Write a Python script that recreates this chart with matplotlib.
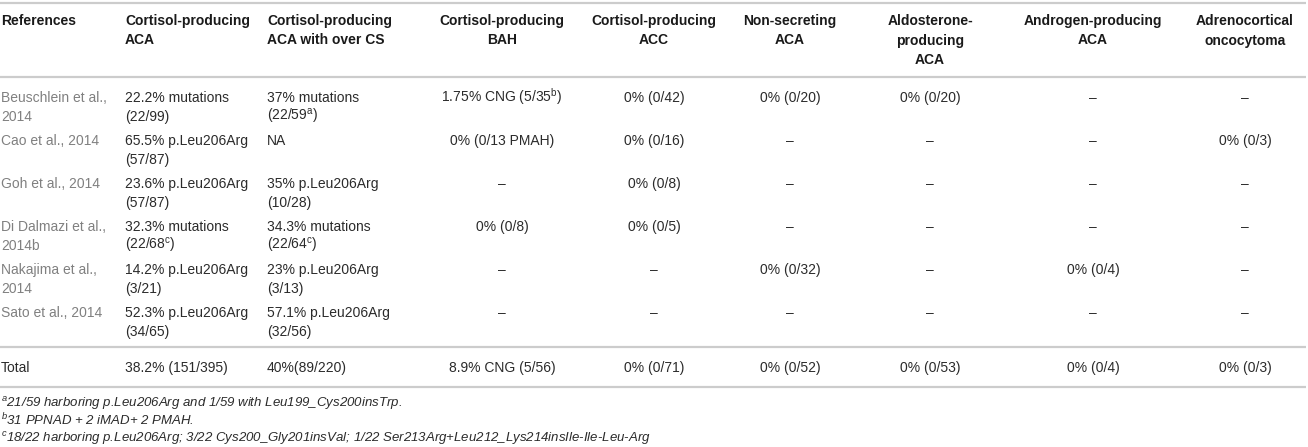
import matplotlib
matplotlib.use("Agg")
import matplotlib.pyplot as plt

plt.rcParams['font.family'] = ['Liberation Sans', 'DejaVu Sans']
plt.rcParams['mathtext.fontset'] = 'custom'
plt.rcParams['mathtext.rm'] = 'Liberation Sans'
plt.rcParams['mathtext.it'] = 'Liberation Sans:italic'
plt.rcParams['mathtext.bf'] = 'Liberation Sans:bold'

# ---- table content ----
headers = [
    "References",
    "Cortisol-producing\nACA",
    "Cortisol-producing\nACA with over CS",
    "Cortisol-producing\nBAH",
    "Cortisol-producing\nACC",
    "Non-secreting\nACA",
    "Aldosterone-\nproducing\nACA",
    "Androgen-producing\nACA",
    "Adrenocortical\noncocytoma",
]
references = [
    "Beuschlein et al.,\n2014",
    "Cao et al., 2014",
    "Goh et al., 2014",
    "Di Dalmazi et al.,\n2014b",
    "Nakajima et al.,\n2014",
    "Sato et al., 2014",
]
cortisol_aca = [
    "22.2% mutations\n(22/99)",
    "65.5% p.Leu206Arg\n(57/87)",
    "23.6% p.Leu206Arg\n(57/87)",
    "32.3% mutations\n(22/68$^{\\mathrm{c}}$)",
    "14.2% p.Leu206Arg\n(3/21)",
    "52.3% p.Leu206Arg\n(34/65)",
]
cortisol_aca_overt = [
    "37% mutations\n(22/59$^{\\mathrm{a}}$)",
    "NA",
    "35% p.Leu206Arg\n(10/28)",
    "34.3% mutations\n(22/64$^{\\mathrm{c}}$)",
    "23% p.Leu206Arg\n(3/13)",
    "57.1% p.Leu206Arg\n(32/56)",
]
cortisol_bah = ["1.75% CNG (5/35$^{\\mathrm{b}}$)", "0% (0/13 PMAH)", "–", "0% (0/8)", "–", "–"]
cortisol_acc = ["0% (0/42)", "0% (0/16)", "0% (0/8)", "0% (0/5)", "–", "–"]
non_secreting = ["0% (0/20)", "–", "–", "–", "0% (0/32)", "–"]
aldosterone = ["0% (0/20)", "–", "–", "–", "–", "–"]
androgen = ["–", "–", "–", "–", "0% (0/4)", "–"]
oncocytoma = ["–", "0% (0/3)", "–", "–", "–", "–"]

totals = ["Total", "38.2% (151/395)", "40%(89/220)", "8.9% CNG (5/56)", "0% (0/71)",
          "0% (0/52)", "0% (0/53)", "0% (0/4)", "0% (0/3)"]

footnotes = [
    "$^{a}$21/59 harboring p.Leu206Arg and 1/59 with Leu199_Cys200insTrp.",
    "$^{b}$31 PPNAD + 2 iMAD+ 2 PMAH.",
    "$^{c}$18/22 harboring p.Leu206Arg; 3/22 Cys200_Gly201insVal; 1/22 Ser213Arg+Leu212_Lys214insIle-Ile-Leu-Arg",
]

columns = [references, cortisol_aca, cortisol_aca_overt, cortisol_bah, cortisol_acc,
           non_secreting, aldosterone, androgen, oncocytoma]

# ---- layout (pixels) ----
W, H = 1308, 447
col_x = [1, 125, 267, 502, 654, 790, 930, 1093, 1245]
col_ha = ['left', 'left', 'left', 'center', 'center', 'center', 'center', 'center', 'center']
header_base = 25
line_gap_head = 19.5
row_base0 = 102
row_step = 43
line_gap = 19
total_base = 372
foot_base = [407, 425, 442]
rule_y = [3, 77, 347, 387]

FS = 10
dark = '#2b2b2b'
grey = '#808080'
rule_c = '#cccccc'

fig = plt.figure(figsize=(W / 100, H / 100), dpi=100)
ax = fig.add_axes([0, 0, 1, 1])
ax.set_xlim(0, W)
ax.set_ylim(H, 0)
ax.axis('off')

for y in rule_y:
    ax.plot([0, 1306], [y, y], color=rule_c, lw=1.6, solid_capstyle='butt')


def cell(x, y, txt, ha, gap, **kw):
    for i, ln in enumerate(txt.split('\n')):
        ax.text(x, y + i * gap, ln, ha=ha, va='baseline', fontsize=FS, **kw)


for j, h in enumerate(headers):
    cell(col_x[j], header_base, h, col_ha[j], line_gap_head, fontweight='bold', color='#1a1a1a')

for j, col in enumerate(columns):
    for i, v in enumerate(col):
        cell(col_x[j], row_base0 + i * row_step, v, col_ha[j], line_gap,
             color=grey if j == 0 else dark)

for j, v in enumerate(totals):
    cell(col_x[j], total_base, v, col_ha[j], line_gap, color=dark)

for y, f in zip(foot_base, footnotes):
    ax.text(1, y, f, ha='left', va='baseline', fontsize=9.5, fontstyle='italic', color=dark)

fig.savefig('out.png', dpi=100)
